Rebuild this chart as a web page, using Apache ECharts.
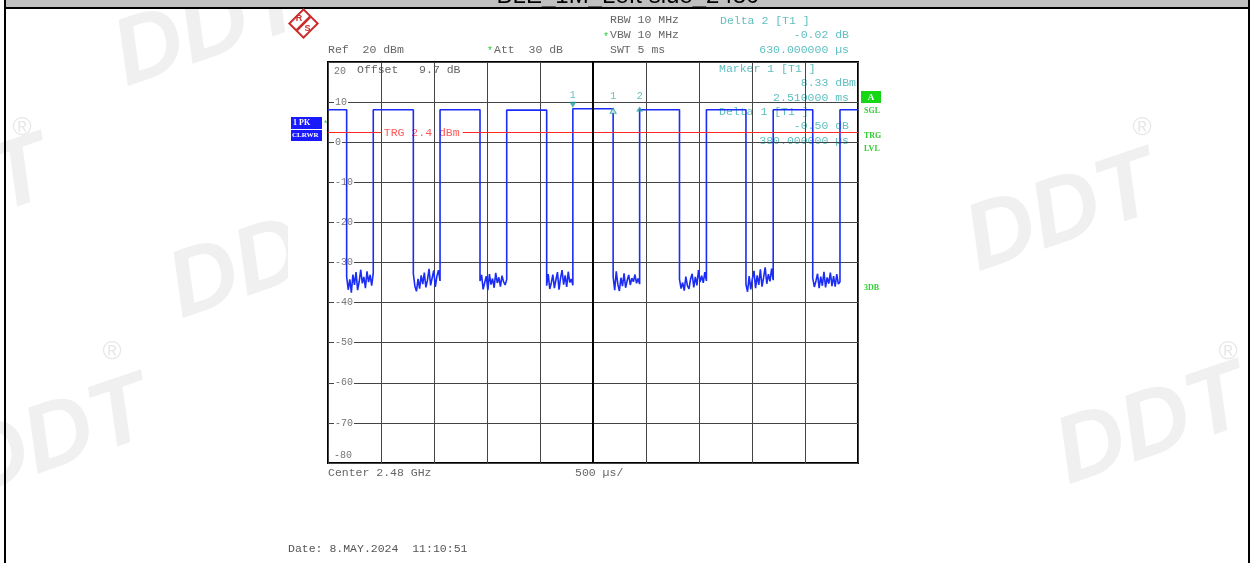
<!DOCTYPE html>
<html><head><meta charset="utf-8">
<script src="https://cdn.jsdelivr.net/npm/echarts@6/dist/echarts.min.js"></script>
<style>html,body{margin:0;padding:0;background:#fff;overflow:hidden}#c{width:1253px;height:563px}</style>
</head><body><div id="c"></div>
<script>
// ---------- data ----------
const xMin = 0, xMax = 5000, xStep = 500;       // µs, 500 µs/div
const yMin = -80, yMax = 20, yStep = 10;        // dBm
const fallTimes = [176, 805, 1434, 2063, 2690, 3316, 3943, 4573];   // falling edges (µs)
const riseTimes = [427, 1057, 1686, 2310, 2940, 3570, 4200, 4830];  // rising edges (µs)
const topLevels = [8.1, 8.1, 8.1, 8.0, 8.33, 8.1, 8.1, 8.1, 8.1];   // burst levels (dBm)
const noise1 = [-33.5, -36.8, -34.2, -37.5, -33.0, -35.6, -32.4, -36.9, -34.8, -31.8, -35.2, -33.6, -36.4, -32.2, -34.9, -33.1, -35.8, -32.6];
const noise2 = [-32.8, -35.9, -37.2, -34.1, -36.5, -33.2, -35.4, -32.5, -36.2, -34.4, -31.6, -35.7, -33.8, -32.0, -36.1, -33.4, -31.9, -34.6];
const noise3 = [-34.6, -33.1, -36.7, -35.0, -33.4, -36.9, -32.9, -35.5, -34.0, -36.3, -32.6, -35.1, -33.7, -36.0, -33.3, -34.8, -35.6, -34.2];
const noise4 = [-35.8, -32.9, -36.6, -35.1, -33.0, -36.4, -34.3, -32.4, -36.8, -33.9, -31.9, -35.5, -33.2, -36.1, -32.3, -35.0, -34.1, -35.7];
const noise5 = [-33.6, -36.9, -32.2, -35.4, -37.1, -33.8, -35.9, -32.7, -36.3, -34.5, -33.1, -35.6, -33.9, -34.8, -33.0, -35.2, -34.0, -35.4];
const noise6 = [-34.2, -36.5, -35.0, -37.0, -33.5, -35.8, -36.6, -34.1, -32.8, -36.2, -33.6, -35.7, -31.9, -34.9, -33.3, -35.1, -32.4, -34.6];
const noise7 = [-35.5, -37.3, -33.4, -36.7, -34.0, -32.1, -36.4, -33.2, -35.6, -31.7, -36.0, -33.8, -31.2, -35.3, -32.9, -34.7, -31.5, -34.4];
const noise8 = [-33.9, -36.1, -34.6, -32.8, -36.4, -33.5, -35.8, -32.3, -36.2, -33.7, -35.3, -32.5, -35.9, -33.4, -36.0, -32.9, -35.4, -34.8];
const noiseGaps = [noise1, noise2, noise3, noise4, noise5, noise6, noise7, noise8];
const trgLevel = 2.4;
const trgGap = [507, 1271];           // where the line is broken by its label
const markerNames = ['1', '1', '2'];
const markerTimes = [2310, 2690, 2940];
const markerLevels = [8.33, 7.83, 8.31];
const centerTime = 2500;

// ---------- build trace ----------
const trace = [[xMin, topLevels[0]]];
for (let k = 0; k < fallTimes.length; k++) {
  trace.push([fallTimes[k], topLevels[k]]);
  const g = noiseGaps[k], n = g.length, t0 = fallTimes[k], t1 = riseTimes[k];
  for (let j = 0; j < n; j++) trace.push([t0 + (t1 - t0) * j / (n - 1), g[j]]);
  trace.push([t1, topLevels[k + 1]]);
}
trace.push([xMax, topLevels[topLevels.length - 1]]);

const MONO = "'Liberation Mono','DejaVu Sans Mono',monospace";
const SERIF = "'Liberation Serif','DejaVu Serif',serif";
const GRAY = '#666666', CYAN = '#5ebfbf', TEAL = '#1a9c9c', GREEN = '#2ecc40';

const chart = echarts.init(document.getElementById('c'));
chart.setOption({
  animation: false,
  backgroundColor: 'transparent',
  grid: { left: 328, top: 62, width: 530, height: 401, show: true, borderColor: '#000', borderWidth: 2, backgroundColor: 'transparent' },
  xAxis: { type: 'value', min: xMin, max: xMax, interval: xStep,
    axisLine: { show: false }, axisTick: { show: false }, axisLabel: { show: false },
    splitLine: { show: true, lineStyle: { color: '#444', width: 1 } } },
  yAxis: { type: 'value', min: yMin, max: yMax, interval: yStep,
    axisLine: { show: false }, axisTick: { show: false },
    axisLabel: { inside: true, margin: 6, color: '#777', fontFamily: MONO, fontSize: 10,
      backgroundColor: '#fff', padding: [0, 1, 0, 1],
      formatter: v => (v === yMax || v === yMin) ? '' : String(v) },
    splitLine: { show: true, lineStyle: { color: '#444', width: 1 } } },
  series: [
    { type: 'line', data: [[xMin, trgLevel]], showSymbol: false, z: 2, silent: true,
      lineStyle: { width: 0 },
      markLine: { silent: true, symbol: ['none', 'none'], label: { show: false }, animation: false,
        data: [
          [{ coord: [xMin, trgLevel], lineStyle: { color: '#ff2a2a', width: 1, type: 'solid' } }, { coord: [trgGap[0], trgLevel] }],
          [{ coord: [trgGap[1], trgLevel], lineStyle: { color: '#ff2a2a', width: 1, type: 'solid' } }, { coord: [xMax, trgLevel] }],
          { xAxis: centerTime, lineStyle: { color: '#000', width: 2, type: 'solid' } }
        ] } },
    { type: 'line', data: trace, showSymbol: false, z: 3, silent: true,
      lineStyle: { color: '#1a2cf5', width: 1.6 } },
    { type: 'scatter', z: 4, silent: true,
      data: [
        { value: [markerTimes[0], markerLevels[0]], name: markerNames[0], symbol: 'triangle', symbolRotate: 180, symbolSize: [7, 6], symbolOffset: [0, -4],
          itemStyle: { color: TEAL }, label: { distance: 1 } },
        { value: [markerTimes[1], markerLevels[1]], name: markerNames[1], symbol: 'triangle', symbolSize: [6, 5],
          itemStyle: { color: '#fff', borderColor: TEAL, borderWidth: 1 }, label: { distance: 6 } },
        { value: [markerTimes[2], markerLevels[2]], name: markerNames[2], symbol: 'triangle', symbolSize: [7, 5],
          itemStyle: { color: TEAL }, label: { distance: 5 } }
      ],
      label: { show: true, position: 'top', formatter: p => p.name, color: '#3eb0b0', fontFamily: MONO, fontSize: 10 } }
  ]
});

function T(s, x, y, color, o = {}) {
  return { type: 'text', x, y, z: o.z ?? 10, rotation: o.rot || 0,
    style: { text: s, fill: color, font: `${o.style || ''} ${o.weight || 'normal'} ${o.size || 11.5}px ${o.family || MONO}`,
      align: o.align || 'left', verticalAlign: o.va || 'middle' } };
}
function R(x, y, w, h, fill, z = 10) {
  return { type: 'rect', x, y, z, shape: { x: 0, y: 0, width: w, height: h }, style: { fill } };
}

const trgPx = chart.convertToPixel({ gridIndex: 0 }, [trgGap[0], trgLevel]);

const els = [];
// watermarks
const wm = [[210, 30], [265, 262], [55, 440], [1062, 215], [1152, 428], [-45, 200]];
wm.forEach(p => els.push(T('DDT', p[0], p[1], '#f0f0f0', { size: 95, weight: 'bold', style: 'italic', family: "'Liberation Sans',Arial,sans-serif", align: 'center', rot: 0.33, z: -20 })));
[[22, 128], [1142, 128], [112, 352], [1228, 352]].forEach(p => els.push(T('®', p[0], p[1], '#e8e8e8', { size: 26, family: "'Liberation Sans',sans-serif", align: 'center', z: -20 })));
// screenshot panel
els.push(R(288, 9, 679, 554, '#fff', -15));
// frame
els.push(R(6, 0, 1242, 7, '#c0c0c0', 5));
els.push(T('BLE_1M_Left side_2480', 628, -4, '#000', { size: 24, family: "'Liberation Sans',Arial,sans-serif", align: 'center', z: 6 }));
els.push(R(4, 7, 1246, 2, '#000', 7));
els.push(R(4, 0, 2, 563, '#000', 7));
els.push(R(1248, 0, 2, 563, '#000', 7));
// R&S logo
els.push({ type: 'rect', x: 303.5, y: 23.5, rotation: Math.PI / 4, z: 10, shape: { x: -10, y: -10, width: 20, height: 20 }, style: { fill: '#fff', stroke: '#cc2b2b', lineWidth: 2 } });
els.push({ type: 'line', z: 11, shape: { x1: 296.5, y1: 30.5, x2: 310.5, y2: 16.5 }, style: { stroke: '#cc2b2b', lineWidth: 2.5 } });
els.push(T('R', 299, 19, '#cc2b2b', { size: 9, weight: 'bold', family: "'Liberation Sans',sans-serif", align: 'center', z: 12 }));
els.push(T('S', 307.5, 28.5, '#cc2b2b', { size: 9, weight: 'bold', family: "'Liberation Sans',sans-serif", align: 'center', z: 12 }));
// header texts
[['RBW 10 MHz', 610, 20], ['VBW 10 MHz', 610, 35], ['SWT 5 ms', 610, 50], ['Ref  20 dBm', 328, 50], ['Att  30 dB', 494, 50]]
  .forEach(a => els.push(T(a[0], a[1], a[2], GRAY)));
els.push(T('*', 603, 37, GREEN, { size: 10 }));
els.push(T('*', 487, 51, GREEN, { size: 10 }));
[['Delta 2 [T1 ]', 720, 21, 'left'], ['-0.02 dB', 849, 35, 'right'], ['630.000000 µs', 849, 50, 'right']]
  .forEach(a => els.push(T(a[0], a[1], a[2], CYAN, { align: a[3] })));
// in-plot texts (under grid lines)
[['Marker 1 [T1 ]', 719, 69, 'left'], ['8.33 dBm', 856, 83, 'right'], ['2.510000 ms', 849, 98, 'right'],
 ['Delta 1 [T1 ]', 719, 112, 'left'], ['-0.50 dB', 849, 126, 'right'], ['380.000000 µs', 849, 141, 'right']]
  .forEach(a => els.push(T(a[0], a[1], a[2], CYAN, { align: a[3], z: -1 })));
els.push(T('20', 334, 71, '#777', { size: 10, z: -1 }));
els.push(T('Offset   9.7 dB', 357, 70, GRAY, { z: -1 }));
els.push({ type: 'text', x: 334, y: 455, z: 10, style: { text: '-80', fill: '#777', font: `10px ${MONO}`, align: 'left', verticalAlign: 'middle', backgroundColor: '#fff' } });
// TRG label
els.push(T('TRG 2.4 dBm', trgPx[0] + 2, trgPx[1], '#ff5c5c', { z: 1 }));
// bottom texts
els.push(T('Center 2.48 GHz', 328, 473, GRAY));
els.push(T('500 µs/', 575, 473, GRAY));
els.push(T('Date: 8.MAY.2024  11:10:51', 288, 549, '#555'));
// left trace box
els.push(R(291, 117, 31, 12, '#1a1aff'));
els.push(R(291, 130, 31, 11, '#1a1aff'));
els.push(T('1 PK', 293, 123, '#fff', { size: 8, weight: 'bold', family: SERIF, z: 11 }));
els.push(T('CLRWR', 292, 135.5, '#fff', { size: 7, weight: 'bold', family: SERIF, z: 11 }));
els.push(T('*', 323, 125, GREEN, { size: 9 }));
// right side labels
els.push(R(861, 91, 20, 12, '#14d814'));
els.push(T('A', 871, 97.5, '#fff', { size: 9, weight: 'bold', family: SERIF, align: 'center', z: 11 }));
[['SGL', 111], ['TRG', 136], ['LVL', 149], ['3DB', 288]].forEach(a => els.push(T(a[0], 864, a[1], '#33cc33', { size: 8, weight: 'bold', family: SERIF })));

chart.setOption({ graphic: { elements: els } });
</script></body></html>
